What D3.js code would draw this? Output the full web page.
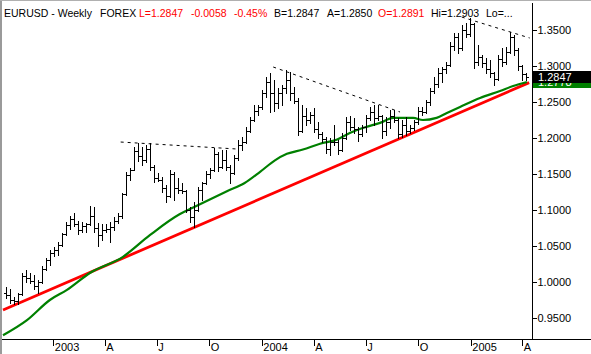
<!DOCTYPE html>
<html>
<head>
<meta charset="utf-8">
<title>EURUSD - Weekly</title>
<script src="https://d3js.org/d3.v7.min.js"></script>
<style>
  body { margin: 0; background: #fff; }
  svg { display: block; font-family: Arial, "Liberation Sans", sans-serif; }
</style>
</head>
<body>
<div id="chart"></div>
<script>
// weekly OHLC bars, one per week starting from firstWeek
var firstWeek = "2002-10-11";
var opens = [0.985,0.982,0.975,0.973,0.983,1.008,1.005,1.002,0.994,1.000,
  1.018,1.030,1.040,1.045,1.052,1.066,1.079,1.088,1.080,1.072,
  1.078,1.080,1.092,1.075,1.065,1.072,1.074,1.076,1.085,1.092,
  1.122,1.148,1.155,1.182,1.175,1.170,1.185,1.160,1.145,1.142,
  1.130,1.120,1.150,1.130,1.128,1.126,1.100,1.090,1.100,1.128,
  1.138,1.150,1.155,1.178,1.160,1.170,1.160,1.152,1.172,1.190,
  1.195,1.210,1.225,1.238,1.243,1.262,1.278,1.262,1.248,1.262,
  1.270,1.280,1.262,1.252,1.210,1.230,1.225,1.232,1.212,1.205,
  1.198,1.185,1.195,1.194,1.183,1.200,1.222,1.215,1.212,1.205,
  1.215,1.228,1.236,1.228,1.230,1.210,1.222,1.230,1.225,1.206,
  1.218,1.210,1.214,1.222,1.238,1.236,1.250,1.265,1.275,1.290,
  1.296,1.302,1.328,1.340,1.325,1.350,1.345,1.358,1.305,1.312,
  1.304,1.296,1.290,1.282,1.310,1.305,1.320,1.340,1.322,1.300,
  1.2891];
var highs = [0.993,0.990,0.979,0.985,1.012,1.017,1.012,1.010,1.003,1.022,
  1.033,1.044,1.049,1.056,1.068,1.083,1.092,1.096,1.085,1.084,
  1.082,1.106,1.104,1.082,1.080,1.080,1.083,1.090,1.096,1.124,
  1.153,1.158,1.188,1.193,1.188,1.190,1.193,1.162,1.151,1.146,
  1.135,1.156,1.153,1.144,1.137,1.128,1.104,1.111,1.132,1.139,
  1.154,1.158,1.186,1.181,1.183,1.183,1.162,1.176,1.197,1.201,
  1.215,1.229,1.246,1.246,1.267,1.285,1.290,1.280,1.269,1.274,
  1.294,1.292,1.271,1.256,1.246,1.242,1.236,1.242,1.222,1.208,
  1.201,1.200,1.218,1.197,1.207,1.229,1.230,1.228,1.215,1.218,
  1.232,1.243,1.246,1.246,1.232,1.229,1.239,1.239,1.228,1.225,
  1.229,1.218,1.225,1.243,1.243,1.253,1.269,1.285,1.297,1.299,
  1.306,1.333,1.346,1.346,1.357,1.360,1.366,1.360,1.329,1.315,
  1.311,1.308,1.292,1.315,1.325,1.326,1.347,1.343,1.325,1.302,
  1.2903];
var lows = [0.978,0.971,0.969,0.970,0.982,1.000,0.999,0.990,0.985,0.998,
  1.016,1.024,1.036,1.037,1.050,1.065,1.074,1.078,1.067,1.069,
  1.069,1.079,1.070,1.050,1.058,1.069,1.056,1.072,1.082,1.089,
  1.121,1.142,1.155,1.168,1.162,1.167,1.156,1.139,1.140,1.125,
  1.111,1.118,1.114,1.124,1.124,1.097,1.083,1.076,1.098,1.114,
  1.136,1.144,1.154,1.154,1.158,1.156,1.137,1.150,1.170,1.183,
  1.193,1.208,1.223,1.232,1.240,1.257,1.236,1.238,1.242,1.246,
  1.262,1.253,1.249,1.204,1.208,1.218,1.221,1.208,1.200,1.194,
  1.179,1.176,1.190,1.178,1.182,1.199,1.211,1.207,1.196,1.203,
  1.208,1.225,1.218,1.225,1.200,1.204,1.214,1.222,1.200,1.201,
  1.204,1.207,1.211,1.220,1.232,1.235,1.246,1.262,1.271,1.278,
  1.290,1.300,1.322,1.318,1.322,1.340,1.342,1.297,1.302,1.299,
  1.290,1.285,1.274,1.280,1.300,1.303,1.318,1.315,1.294,1.281,
  1.2810];
var closes = [0.982,0.975,0.973,0.983,1.008,1.005,1.002,0.994,1.000,1.018,
  1.030,1.040,1.045,1.052,1.066,1.079,1.088,1.080,1.072,1.078,
  1.080,1.092,1.075,1.065,1.072,1.074,1.076,1.085,1.092,1.122,
  1.148,1.155,1.182,1.175,1.170,1.185,1.160,1.145,1.142,1.130,
  1.120,1.150,1.130,1.128,1.126,1.100,1.090,1.100,1.128,1.138,
  1.150,1.155,1.178,1.160,1.170,1.160,1.152,1.172,1.190,1.195,
  1.210,1.225,1.238,1.243,1.262,1.278,1.262,1.248,1.262,1.270,
  1.280,1.262,1.252,1.210,1.230,1.225,1.232,1.212,1.205,1.198,
  1.185,1.195,1.194,1.183,1.200,1.222,1.215,1.212,1.205,1.215,
  1.228,1.236,1.228,1.230,1.210,1.222,1.230,1.225,1.206,1.218,
  1.210,1.214,1.222,1.238,1.236,1.250,1.265,1.275,1.290,1.296,
  1.302,1.328,1.340,1.325,1.350,1.345,1.358,1.305,1.312,1.304,
  1.296,1.290,1.282,1.310,1.305,1.320,1.340,1.322,1.300,1.2891,
  1.2847];

// moving average (green)
var maDates = ["2002-10-05","2002-11-16","2002-12-26","2003-01-25","2003-03-06",
  "2003-05-03","2003-06-19","2003-08-10","2003-09-02","2003-11-01",
  "2003-12-02","2003-12-29","2004-01-24","2004-02-14","2004-03-13",
  "2004-04-12","2004-05-12","2004-06-03","2004-06-30","2004-07-26",
  "2004-08-18","2004-09-22","2004-10-09","2004-11-02","2004-11-20",
  "2004-12-13","2005-01-17","2005-02-21","2005-03-16","2005-04-09"];
var maValues = [0.926,0.947,0.975,0.989,1.0125,
  1.035,1.065,1.094,1.103,1.126,
  1.1375,1.153,1.169,1.178,1.184,
  1.192,1.198,1.207,1.215,1.221,
  1.228,1.228,1.225,1.228,1.2347,
  1.2431,1.2556,1.2653,1.2722,1.2778];

// support trend line (red)
var trendDates = ["2002-10-05","2005-04-13"];
var trendValues = [0.9611,1.2769];

// resistance lines (dashed)
var res1Dates = ["2003-04-29","2003-11-19"], res1Values = [1.1944,1.1847];
var res2Dates = ["2004-01-21","2004-08-30"], res2Values = [1.2986,1.2361];
var res3Dates = ["2004-12-16","2005-04-14"], res3Values = [1.368,1.3389];

// axes
var tickDates = ["2003-01-01","2003-04-01","2003-07-01","2003-10-01","2004-01-01",
  "2004-04-01","2004-07-01","2004-10-01","2005-01-01","2005-04-01"];
var tickLabels = ["2003","A","J","O","2004","A","J","O","2005","A"];
var priceTicks = [0.95,1.00,1.05,1.10,1.15,1.20,1.25,1.30,1.35];
var lastPrice = 1.2847;
var lastMA = 1.2778;

// header
var headerText = ["EURUSD - Weekly","FOREX","L=1.2847","-0.0058","-0.45%",
  "B=1.2847","A=1.2850","O=1.2891","Hi=1.2903","Lo=..."];
var headerRed = [false,false,true,true,true,false,false,true,false,false];
var headerX = [4,100,139,191,234,274,327,378,431,486];

var width = 591, height = 354;
var axisX = 532, axisY = 339;
var parse = d3.timeParse("%Y-%m-%d");

var svg = d3.select("#chart").append("svg")
  .attr("width", width).attr("height", height);

svg.append("rect").attr("width", width).attr("height", height).attr("fill", "#fff");

var x = d3.scaleTime()
  .domain([parse("2002-10-05"), parse("2005-04-18")])
  .range([3, axisX]);
var y = d3.scaleLinear().domain([0.95, 1.35]).range([318, 30]);

var start = parse(firstWeek);
var bars = opens.map(function(o, i) {
  return { date: d3.timeDay.offset(start, 7 * i), o: o, h: highs[i], l: lows[i], c: closes[i] };
});

var defs = svg.append("defs");
defs.append("clipPath").attr("id", "plot")
  .append("rect").attr("x", 2).attr("y", 2).attr("width", axisX - 2).attr("height", axisY - 2);

var plot = svg.append("g").attr("clip-path", "url(#plot)");

// red trend line
plot.append("path")
  .datum(trendDates.map(function(d, i) { return [parse(d), trendValues[i]]; }))
  .attr("fill", "none").attr("stroke", "#ff0000").attr("stroke-width", 2.8)
  .attr("d", d3.line().x(function(d) { return x(d[0]); }).y(function(d) { return y(d[1]); }));

// green moving average
plot.append("path")
  .datum(maDates.map(function(d, i) { return [parse(d), maValues[i]]; }))
  .attr("fill", "none").attr("stroke", "#008000").attr("stroke-width", 2.2)
  .attr("d", d3.line().curve(d3.curveMonotoneX)
    .x(function(d) { return x(d[0]); }).y(function(d) { return y(d[1]); }));

// dashed resistance lines
[[res1Dates, res1Values], [res2Dates, res2Values], [res3Dates, res3Values]].forEach(function(r) {
  plot.append("line")
    .attr("x1", x(parse(r[0][0]))).attr("y1", y(r[1][0]))
    .attr("x2", x(parse(r[0][1]))).attr("y2", y(r[1][1]))
    .attr("stroke", "#000").attr("stroke-width", 1).attr("stroke-dasharray", "3,4");
});

// OHLC bars
var barG = plot.append("g").attr("stroke", "#000").attr("stroke-width", 1)
  .attr("shape-rendering", "crispEdges");
bars.forEach(function(b) {
  var px = Math.round(x(b.date)) + 0.5;
  barG.append("line").attr("x1", px).attr("x2", px)
    .attr("y1", Math.round(y(b.h))).attr("y2", Math.round(y(b.l)) + 1);
  var yo = Math.round(y(b.o)) + 0.5, yc = Math.round(y(b.c)) + 0.5;
  barG.append("line").attr("x1", px - 2.5).attr("x2", px).attr("y1", yo).attr("y2", yo);
  barG.append("line").attr("x1", px).attr("x2", px + 2.5).attr("y1", yc).attr("y2", yc);
});

// header
headerText.forEach(function(t, i) {
  svg.append("text").attr("x", headerX[i]).attr("y", 17)
    .attr("font-size", 10.5).attr("fill", headerRed[i] ? "#ff0000" : "#000").text(t);
});

// frame lines
svg.append("line").attr("x1", 1).attr("x2", 1).attr("y1", 0).attr("y2", height)
  .attr("stroke", "#9a9a9a").attr("stroke-width", 2);
svg.append("line").attr("x1", 0).attr("x2", width).attr("y1", 0.5).attr("y2", 0.5)
  .attr("stroke", "#b0b0b0");
svg.append("line").attr("x1", axisX + 0.5).attr("x2", axisX + 0.5).attr("y1", 3).attr("y2", axisY)
  .attr("stroke", "#000").attr("shape-rendering", "crispEdges");
svg.append("line").attr("x1", 2).attr("x2", width).attr("y1", axisY + 0.5).attr("y2", axisY + 0.5)
  .attr("stroke", "#000").attr("shape-rendering", "crispEdges");

// right price axis
var yAxis = svg.append("g").attr("transform", "translate(" + (axisX + 0.5) + ",0)")
  .call(d3.axisRight(y).tickValues(priceTicks).tickFormat(d3.format(".4f"))
    .tickSize(4).tickSizeOuter(0).tickPadding(1));
yAxis.select(".domain").remove();
yAxis.selectAll("text").attr("font-size", 11).attr("font-family", "Arial, 'Liberation Sans', sans-serif")
  .attr("fill", "#000");
yAxis.selectAll("line").attr("stroke", "#000").attr("shape-rendering", "crispEdges");

// bottom time axis
var xAxis = svg.append("g").attr("transform", "translate(0," + (axisY + 0.5) + ")")
  .call(d3.axisBottom(x).tickValues(tickDates.map(parse))
    .tickFormat(function(d, i) { return tickLabels[i]; })
    .tickSize(6).tickSizeOuter(0));
xAxis.select(".domain").remove();
xAxis.selectAll(".tick line").attr("stroke", "#000").attr("shape-rendering", "crispEdges");
xAxis.selectAll(".tick text").attr("text-anchor", "start").attr("x", 1).attr("y", 4).attr("dy", "0.71em")
  .attr("font-size", 11).attr("font-family", "Arial, 'Liberation Sans', sans-serif").attr("fill", "#000");

// last value labels: green MA box mostly hidden under the black price box
var yl = Math.round(y(lastPrice));
var ym = Math.round(y(lastMA));
defs.append("clipPath").attr("id", "maLab")
  .append("rect").attr("x", axisX + 1).attr("y", yl + 6).attr("width", width - axisX).attr("height", 12);
var lab = svg.append("g");
var maG = lab.append("g").attr("clip-path", "url(#maLab)");
maG.append("rect").attr("x", axisX + 1).attr("y", ym - 5).attr("width", width - axisX).attr("height", 11)
  .attr("fill", "#008000");
maG.append("text").attr("x", axisX + 6).attr("y", ym + 4).attr("font-size", 11).attr("fill", "#fff")
  .text(d3.format(".4f")(lastMA));
lab.append("rect").attr("x", axisX + 1).attr("y", yl - 6).attr("width", width - axisX).attr("height", 12)
  .attr("fill", "#000");
lab.append("text").attr("x", axisX + 6).attr("y", yl + 4).attr("font-size", 11).attr("fill", "#fff")
  .text(d3.format(".4f")(lastPrice));
</script>
</body>
</html>
